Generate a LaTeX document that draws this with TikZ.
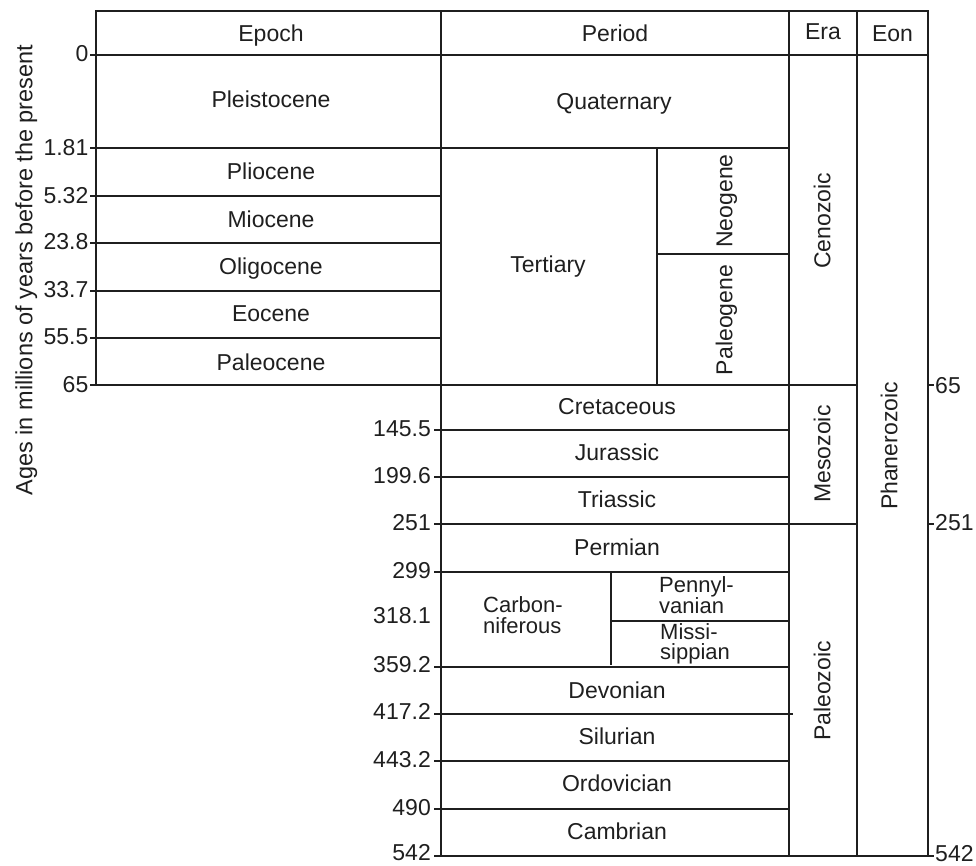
\documentclass[tikz,border=0pt]{standalone}
\usepackage{fontspec}
\setmainfont{Liberation Sans}
\begin{document}
\begin{tikzpicture}[x=1pt,y=-1pt,
  rule/.style={line width=2.4pt, line cap=rect, draw=black!88},
  tick/.style={line width=2pt, draw=black!88},
  cell/.style={font=\fontsize{23}{23}\selectfont, text=black!88, inner sep=0pt, text height=16.5pt, text depth=0pt},
  vcell/.style={cell, rotate=90},
  twoline/.style={font=\fontsize{22}{22}\selectfont, text=black!88, inner sep=0pt, anchor=base west},
  numl/.style={font=\fontsize{23}{23}\selectfont, text=black!88, inner sep=0pt, text height=16.5pt, text depth=0pt, anchor=east},
  numr/.style={numl, anchor=west},
  ]
\useasboundingbox (0,0) rectangle (976,865);

% ---- frame and column rules
\draw[rule] (96,11) -- (928,11);
\draw[rule] (96,11) -- (96,385);
\draw[rule] (441,11) -- (441,856);
\draw[rule] (789,11) -- (789,856);
\draw[rule] (857,11) -- (857,856);
\draw[rule] (928,11) -- (928,856);
\draw[rule] (96,55) -- (928,55);

% ---- Cenozoic rows
\draw[rule] (96,148) -- (789,148);
\foreach \yy in {196,243,291,338} \draw[rule] (96,\yy) -- (441,\yy);
\draw[rule] (96,385) -- (857,385);
\draw[rule] (657,148) -- (657,385);
\draw[rule] (657,254) -- (789,254);

% ---- Mesozoic / Paleozoic rows
\foreach \yy in {430,477,572,667,761,809} \draw[rule] (441,\yy) -- (789,\yy);
\draw[rule] (441,524) -- (857,524);
\draw[rule] (441,714) -- (792,714);
\draw[rule] (441,856) -- (928,856);
\draw[rule] (611,572) -- (611,664);
\draw[rule] (611,621) -- (789,621);

% ---- ticks
\foreach \yy in {55,148,196,243,291,338,385} \draw[tick] (90,\yy) -- (96,\yy);
\foreach \yy in {430,477,524,572,667,714,761,809,856} \draw[tick] (434,\yy) -- (441,\yy);
\foreach \yy in {385,524,856} \draw[tick] (928,\yy) -- (934,\yy);

% ---- left axis labels
\node[numl] (t0)   at (88.5,53.5) {0};
\node[numl] (t1)   at (88.5,147)  {1.81};
\node[numl] (t2)   at (88.5,195)  {5.32};
\node[numl] (t3)   at (88.5,241.5){23.8};
\node[numl] (t4)   at (88.5,289)  {33.7};
\node[numl] (t5)   at (88.5,336.5){55.5};
\node[numl] (t6)   at (88.5,384)  {65};

\node[numl] (p1) at (431,428)   {145.5};
\node[numl] (p2) at (431,475)   {199.6};
\node[numl] (p3) at (431,522)   {251};
\node[numl] (p4) at (431,570.5) {299};
\node[numl] (p5) at (431,615.5) {318.1};
\node[numl] (p6) at (431,664)   {359.2};
\node[numl] (p7) at (431,711.5) {417.2};
\node[numl] (p8) at (431,759)   {443.2};
\node[numl] (p9) at (431,807)   {490};
\node[numl] (p10) at (431,852)  {542};

% ---- right axis labels
\node[numr] (r1) at (935,385) {65};
\node[numr] (r2) at (935,522) {251};
\node[numr] (r3) at (935,853) {542};

% ---- axis title
\node[cell, font=\fontsize{23.5}{23.5}\selectfont, rotate=90] (ytitle) at (24,270)
  {Ages in millions of years before the present};

% ---- headers
\node[cell] (hEpoch)  at (271,33)   {Epoch};
\node[cell] (hPeriod) at (615,33)   {Period};
\node[cell] (hEra)    at (823,31.5) {Era};
\node[cell] (hEon)    at (892.5,33) {Eon};

% ---- epochs
\node[cell] (ePleist) at (271,99)    {Pleistocene};
\node[cell] (ePlio)   at (271,171)   {Pliocene};
\node[cell] (eMio)    at (271,219)   {Miocene};
\node[cell] (eOligo)  at (271,266)   {Oligocene};
\node[cell] (eEo)     at (271,313.5) {Eocene};
\node[cell] (ePaleo)  at (271,362)   {Paleocene};

% ---- periods
\node[cell]  (quat)  at (614,101)   {Quaternary};
\node[cell]  (tert)  at (548,264)   {Tertiary};
\node[vcell] (neo)   at (724,201)   {Neogene};
\node[vcell] (paleog) at (724,320)  {Paleogene};
\node[cell]  (cret)  at (617,406)   {Cretaceous};
\node[cell]  (jur)   at (617,452)   {Jurassic};
\node[cell]  (tri)   at (617,499)   {Triassic};
\node[cell]  (perm)  at (617,547)   {Permian};
\node[twoline] (carbA) at (483,612) {Carbon-};
\node[twoline] (carbB) at (483,633) {niferous};
\node[twoline] (penA)  at (659,592) {Pennyl-};
\node[twoline] (penB)  at (659,613) {vanian};
\node[twoline] (misA)  at (660,639) {Missi-};
\node[twoline] (misB)  at (660,659) {sippian};
\node[cell]  (dev)   at (617,690)   {Devonian};
\node[cell]  (sil)   at (617,736.5) {Silurian};
\node[cell]  (ord)   at (617,783.5) {Ordovician};
\node[cell]  (camb)  at (617,831.5) {Cambrian};

% ---- eras and eon
\node[vcell] (ceno)  at (822,221) {Cenozoic};
\node[vcell] (meso)  at (822,454) {Mesozoic};
\node[vcell] (paleoz) at (822,691) {Paleozoic};
\node[vcell] (phan)  at (889,446) {Phanerozoic};
\end{tikzpicture}
\end{document}
